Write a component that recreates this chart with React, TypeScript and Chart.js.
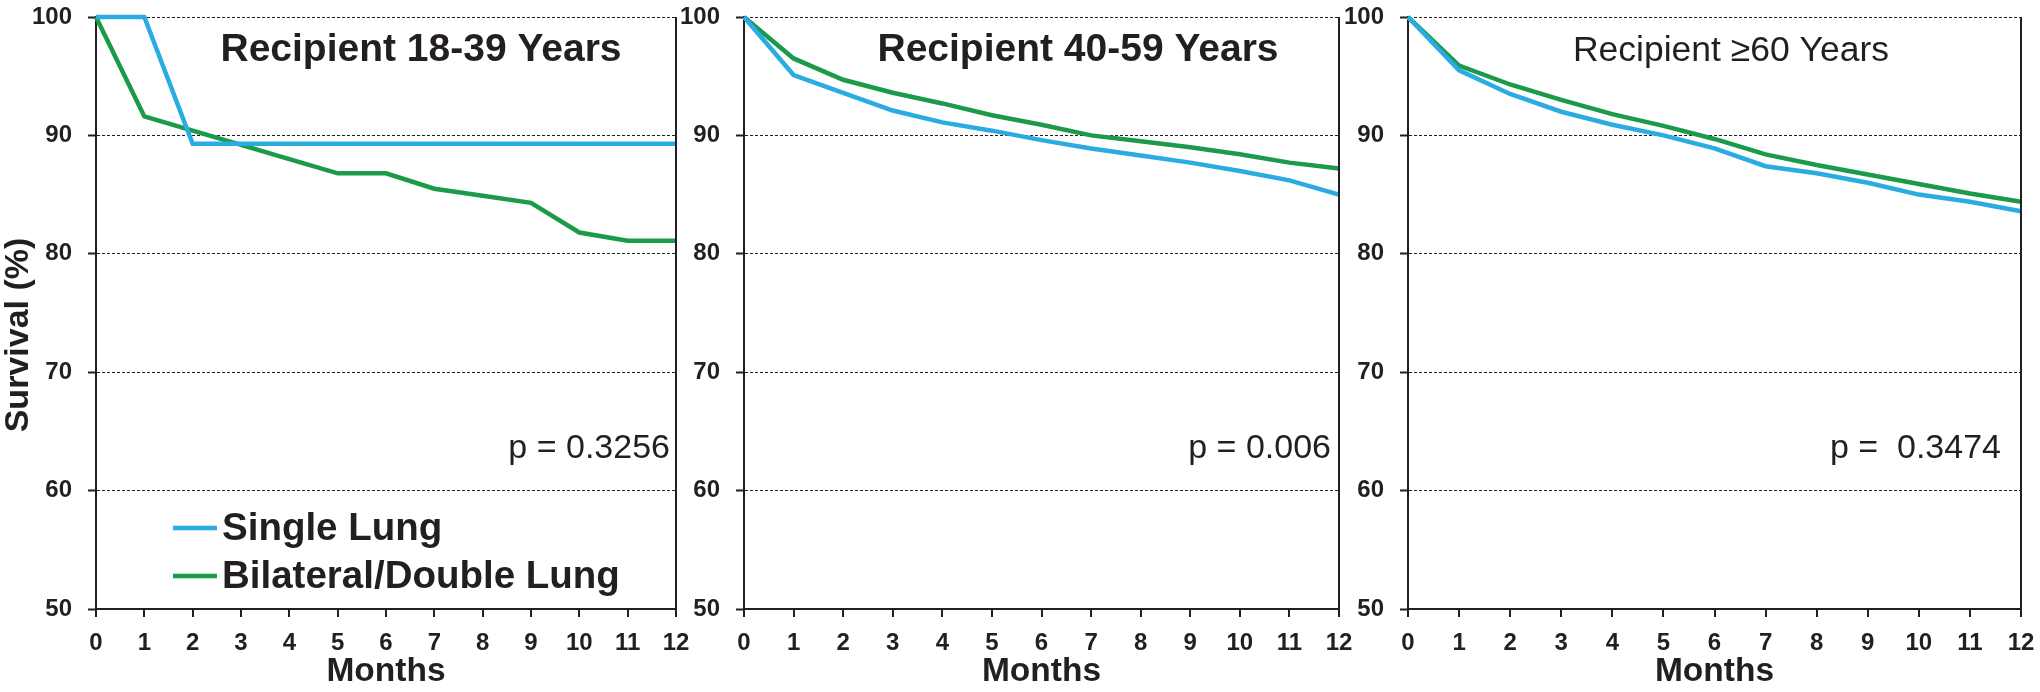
import React, { useEffect, useRef } from "react";
import { Chart, registerables } from "chart.js";

Chart.register(...registerables);

// ---------- data ----------
const MONTHS = ["0", "1", "2", "3", "4", "5", "6", "7", "8", "9", "10", "11", "12"];
const Y_MIN = 50;
const Y_MAX = 100;
const Y_STEP = 10;

const SERIES_NAMES = ["Single Lung", "Bilateral/Double Lung"];
const PANEL_TITLES = ["Recipient 18-39 Years", "Recipient 40-59 Years", "Recipient \u226560 Years"];
const P_VALUES = ["p = 0.3256", "p = 0.006", "p =  0.3474"];
const Y_TITLE = "Survival (%)";
const X_TITLE = "Months";

const SINGLE_18_39 = [100, 100, 89.3, 89.3, 89.3, 89.3, 89.3, 89.3, 89.3, 89.3, 89.3, 89.3, 89.3];
const DOUBLE_18_39 = [100, 91.6, 90.4, 89.2, 88.0, 86.8, 86.8, 85.5, 84.9, 84.3, 81.8, 81.1, 81.1];
const SINGLE_40_59 = [100, 95.1, 93.6, 92.1, 91.1, 90.4, 89.6, 88.9, 88.3, 87.7, 87.0, 86.2, 85.0];
const DOUBLE_40_59 = [100, 96.5, 94.7, 93.6, 92.7, 91.7, 90.9, 90.0, 89.5, 89.0, 88.4, 87.7, 87.2];
const SINGLE_60 = [100, 95.5, 93.5, 92.0, 90.9, 90.0, 88.9, 87.4, 86.8, 86.0, 85.0, 84.4, 83.6];
const DOUBLE_60 = [100, 95.9, 94.3, 93.0, 91.8, 90.8, 89.7, 88.4, 87.5, 86.7, 85.9, 85.1, 84.4];

const SINGLE = [SINGLE_18_39, SINGLE_40_59, SINGLE_60];
const DOUBLE = [DOUBLE_18_39, DOUBLE_40_59, DOUBLE_60];

// ---------- style ----------
const BLUE = "#2AABE2";
const GREEN = "#1B9A4A";
const AXIS = "#231F20";
const FONT = "'Liberation Sans', Arial, Helvetica, sans-serif";

type PanelCfg = {
  left: number;
  width: number;
  axisWidth: number;
  padRight: number;
  titleX: number;
  titleBold: boolean;
  pRight: number;
  legend: boolean;
  yTitle: boolean;
};

const PANELS: PanelCfg[] = [
  { left: 0, width: 700, axisWidth: 96, padRight: 24, titleX: 421, titleBold: true, pRight: 670, legend: true, yTitle: true },
  { left: 670, width: 700, axisWidth: 74, padRight: 31, titleX: 408, titleBold: true, pRight: 661, legend: false, yTitle: false },
  { left: 1330, width: 710, axisWidth: 78, padRight: 19, titleX: 401, titleBold: false, pRight: 671, legend: false, yTitle: false },
];

const H = 692;
const PLOT_TOP = 17;
const PLOT_BOTTOM = 609;

function makeOverlay(idx: number) {
  const p = PANELS[idx];
  return {
    id: "overlay" + idx,
    afterDatasetsDraw(chart: any) {
      const ctx: CanvasRenderingContext2D = chart.ctx;
      const a = chart.chartArea;
      ctx.save();
      // right frame line
      ctx.strokeStyle = AXIS;
      ctx.lineWidth = 2;
      ctx.setLineDash([]);
      ctx.beginPath();
      ctx.moveTo(a.right, a.top);
      ctx.lineTo(a.right, a.bottom);
      ctx.stroke();

      ctx.fillStyle = AXIS;
      // panel title
      ctx.textAlign = "center";
      ctx.textBaseline = "alphabetic";
      ctx.font = `${p.titleBold ? "bold 39px" : "35.5px"} ${FONT}`;
      ctx.fillText(PANEL_TITLES[idx], p.titleX, 61);

      // p value
      ctx.textAlign = "right";
      ctx.font = `34px ${FONT}`;
      ctx.fillText(P_VALUES[idx], p.pRight, 458);

      // legend
      if (p.legend) {
        const ds = chart.data.datasets;
        const rows = [
          { y: 528, base: 540 },
          { y: 576, base: 588 },
        ];
        ds.forEach((d: any, i: number) => {
          ctx.strokeStyle = d.borderColor;
          ctx.lineWidth = 4.5;
          ctx.beginPath();
          ctx.moveTo(173, rows[i].y);
          ctx.lineTo(217, rows[i].y);
          ctx.stroke();
          ctx.fillStyle = AXIS;
          ctx.textAlign = "left";
          ctx.font = `bold 38.5px ${FONT}`;
          ctx.fillText(d.label, 222, rows[i].base);
        });
      }

      // y title
      if (p.yTitle) {
        ctx.save();
        ctx.translate(19, 335);
        ctx.rotate(-Math.PI / 2);
        ctx.textAlign = "center";
        ctx.textBaseline = "middle";
        ctx.font = `bold 34px ${FONT}`;
        ctx.fillStyle = AXIS;
        ctx.fillText(Y_TITLE, 0, 0);
        ctx.restore();
      }
      ctx.restore();
    },
  };
}

function Panel({ idx }: { idx: number }) {
  const ref = useRef<HTMLCanvasElement>(null);
  const p = PANELS[idx];
  useEffect(() => {
    if (!ref.current) return;
    const tickFont = { family: FONT, size: 24, weight: "bold" as const };
    const chart = new Chart(ref.current, {
      type: "line",
      data: {
        labels: MONTHS,
        datasets: [
          {
            label: SERIES_NAMES[0],
            data: SINGLE[idx],
            borderColor: BLUE,
            backgroundColor: BLUE,
            borderWidth: 4.5,
            pointRadius: 0,
            tension: 0,
            clip: false as any,
          },
          {
            label: SERIES_NAMES[1],
            data: DOUBLE[idx],
            borderColor: GREEN,
            backgroundColor: GREEN,
            borderWidth: 4.5,
            pointRadius: 0,
            tension: 0,
            clip: false as any,
          },
        ],
      },
      options: {
        animation: false,
        responsive: false,
        maintainAspectRatio: false,
        layout: { padding: { top: PLOT_TOP, right: p.padRight, left: 0, bottom: 0 } },
        plugins: {
          legend: { display: false },
          tooltip: { enabled: false },
          title: { display: false },
        },
        scales: {
          x: {
            type: "category",
            offset: false,
            grid: {
              drawOnChartArea: false,
              drawTicks: true,
              tickLength: 8,
              color: AXIS,
              lineWidth: 2,
            },
            border: { display: true, color: AXIS, width: 2 },
            ticks: {
              color: AXIS,
              font: tickFont,
              padding: 12,
              maxRotation: 0,
              autoSkip: false,
            },
            title: {
              display: true,
              text: X_TITLE,
              color: AXIS,
              font: { family: FONT, size: 33.5, weight: "bold" },
              padding: { top: 0, bottom: 0 },
            },
            afterFit: (s: any) => {
              s.height = H - PLOT_BOTTOM;
              s.paddingLeft = 0;
              s.paddingRight = 0;
            },
          },
          y: {
            type: "linear",
            min: Y_MIN,
            max: Y_MAX,
            ticks: {
              stepSize: Y_STEP,
              color: AXIS,
              font: tickFont,
              padding: 16,
            },
            grid: {
              drawOnChartArea: true,
              drawTicks: true,
              tickLength: 8,
              color: AXIS,
              lineWidth: 1,
              tickColor: AXIS,
              tickWidth: 2,
              tickBorderDash: [],
            },
            border: { display: true, color: AXIS, width: 2, dash: [3, 2] },
            afterFit: (s: any) => {
              s.width = p.axisWidth;
              s.paddingTop = 0;
              s.paddingBottom = 0;
            },
          },
        },
      },
      plugins: [makeOverlay(idx)],
    });
    return () => chart.destroy();
  }, [idx]);

  return (
    <canvas
      ref={ref}
      width={p.width}
      height={H}
      style={{
        position: "absolute",
        left: p.left,
        top: 0,
        width: p.width,
        height: H,
        display: "block",
      }}
    />
  );
}

export default function App() {
  return (
    <div
      style={{
        position: "absolute",
        left: 0,
        top: 0,
        width: 2040,
        height: H,
        background: "#ffffff",
        overflow: "hidden",
      }}
    >
      {PANELS.map((_, i) => (
        <Panel key={i} idx={i} />
      ))}
    </div>
  );
}
